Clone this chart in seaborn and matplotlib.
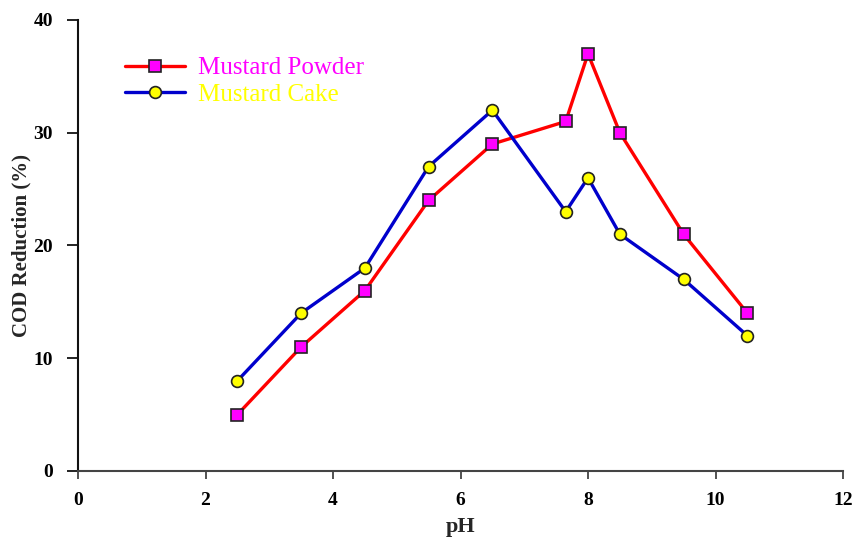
import numpy as np
import pandas as pd
import matplotlib
matplotlib.use("Agg")
import matplotlib.pyplot as plt
import seaborn as sns

# data
ph = [2.5, 3.5, 4.5, 5.5, 6.5, 7.65, 8.0, 8.5, 9.5, 10.5]
powder = [5, 11, 16, 24, 29, 31, 37, 30, 21, 14]
cake = [8, 14, 18, 27, 32, 23, 26, 21, 17, 12]

df_p = pd.DataFrame({'pH': ph, 'COD': powder})
df_c = pd.DataFrame({'pH': ph, 'COD': cake})

sns.set_style("ticks")
plt.rcParams['font.family'] = ['Liberation Serif', 'DejaVu Serif']

fig = plt.figure(figsize=(8.59, 5.43), dpi=100)
ax = fig.add_axes([0.0908, 0.1326, 0.8906, 0.8306])

sns.lineplot(x='pH', y='COD', data=df_p, ax=ax, color='#ff0000', lw=2.4,
             marker='s', markersize=8, markerfacecolor='#ff00ff',
             markeredgecolor='#222222', markeredgewidth=1.2, label='Mustard Powder')
sns.lineplot(x='pH', y='COD', data=df_c, ax=ax, color='#0000cc', lw=2.4,
             marker='o', markersize=8.5, markerfacecolor='#ffff00',
             markeredgecolor='#222222', markeredgewidth=1.2, label='Mustard Cake')

ax.set_xlim(0, 12)
ax.set_ylim(0, 40)
ax.set_xticks(np.arange(0, 13, 2))
ax.set_yticks(np.arange(0, 41, 10))
ax.tick_params(axis='x', direction='out', length=6, width=1.3, colors='#444444', labelcolor='black', pad=9)
ax.tick_params(axis='y', direction='out', length=8, width=1.3, colors='#111111', labelcolor='black', pad=10)
for lab in ax.get_xticklabels() + ax.get_yticklabels():
    lab.set_fontweight('bold')
    lab.set_fontsize(14)

ax.set_xlabel('pH', fontsize=16, fontweight='bold', labelpad=6)
ax.set_ylabel('COD Reduction (%)', fontsize=15, fontweight='bold', labelpad=1)

sns.despine(ax=ax)
ax.spines['left'].set_color('#111111')
ax.spines['bottom'].set_color('#444444')
for s in ['left', 'bottom']:
    ax.spines[s].set_linewidth(1.5)

leg = ax.legend(loc='upper left', bbox_to_anchor=(0.0615, 0.918), frameon=False,
                fontsize=18, handlelength=2.4, labelspacing=0.17, handletextpad=0.5,
                borderpad=0, borderaxespad=0)
leg.get_texts()[0].set_color('#ff00ff')
leg.get_texts()[1].set_color('#ffff00')

fig.savefig('out.png', dpi=100)
